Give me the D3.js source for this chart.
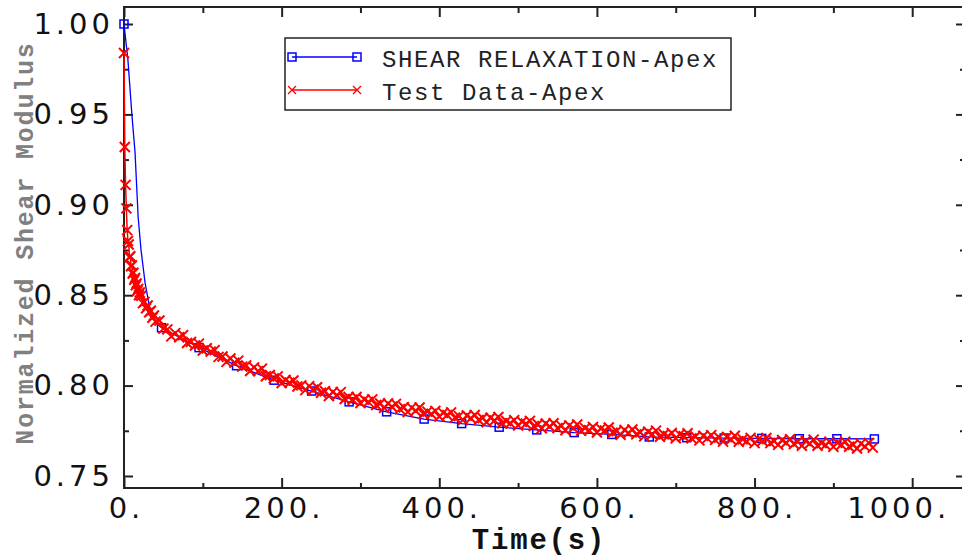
<!DOCTYPE html>
<html>
<head>
<meta charset="utf-8">
<script src="https://cdn.jsdelivr.net/npm/d3@7"></script>
<style>
  body { margin: 0; background: #fff; }
  svg { display: block; }
</style>
</head>
<body>
<div id="chart"></div>
<script>
// tick values and labels
const xMajor = [0, 200, 400, 600, 800, 1000];
const xMinor = [100, 300, 500, 700, 900];
const xTickLabels = ["0.", "200.", "400.", "600.", "800.", "1000."];
const yMajor = [0.75, 0.80, 0.85, 0.90, 0.95, 1.00];
const yMinor = [0.775, 0.825, 0.875, 0.925, 0.975];
const yTickLabels = ["0.75", "0.80", "0.85", "0.90", "0.95", "1.00"];

const seriesNames = ["SHEAR RELAXATION-Apex", "Test Data-Apex"];

// fitted relaxation curve [time, value]
const relaxCurve = [
  [0, 1.000], [5, 0.980], [10, 0.950], [14, 0.929], [18, 0.893], [21.6, 0.875],
  [26.7, 0.857], [33, 0.842], [40, 0.835], [47.6, 0.832], [95.2, 0.821],
  [142.8, 0.811], [190.4, 0.803], [238, 0.797], [285.6, 0.791], [333.2, 0.7855],
  [380.8, 0.7815], [428.4, 0.779], [476, 0.777], [523.6, 0.7755], [571.2, 0.774],
  [618.8, 0.773], [666.4, 0.7716], [714, 0.7712], [761.6, 0.771], [809.2, 0.7708],
  [856.8, 0.7706], [904.4, 0.7706], [952, 0.7705]
];
const relaxMarkerTime = [0, 47.6, 95.2, 142.8, 190.4, 238, 285.6, 333.2, 380.8, 428.4,
  476, 523.6, 571.2, 618.8, 666.4, 714, 761.6, 809.2, 856.8, 904.4, 952];

// measured test data [time, value]
const testData = [
  [0, .984], [1, .932], [2, .911], [3, .898], [4, .886], [5, .880], [6, .878], [7, .871],
  [8, .8715], [9, .866], [10, .8665], [11, .862], [12, .8625], [13, .8585], [14, .8595],
  [15, .8555], [16, .8565], [17, .8525], [18, .8535], [19, .850], [20, .8515],
  [22, .8497], [24, .8456], [26, .8463], [28, .8428], [30, .8443], [32, .8406], [34, .8414],
  [36, .8375], [38, .8388], [40, .8354],
  [45, .8360], [50, .8315], [55, .8311], [60, .8272], [65, .8290], [70, .8267], [75, .8279],
  [80, .8236], [85, .8242], [90, .8222], [95, .8232], [100, .8194], [105, .8207], [110, .8188],
  [115, .8196], [120, .8159], [125, .8161], [130, .8131], [135, .8150], [140, .8127],
  [145, .8138], [150, .8105], [155, .8111], [160, .8081], [165, .8101], [170, .8080],
  [175, .8094], [180, .8052], [185, .8059], [190, .8040], [195, .8051], [200, .8014],
  [205, .8031], [210, .8016], [215, .8028], [220, .7995], [225, .8001], [230, .7975],
  [235, .7997], [240, .7977], [245, .7991], [250, .7960], [255, .7969], [260, .7942],
  [265, .7965], [270, .7947], [275, .7964], [280, .7926], [285, .7937], [290, .7922],
  [295, .7937], [300, .7904], [305, .7923], [310, .7910], [315, .7924], [320, .7893],
  [325, .7901], [330, .7877], [335, .7901], [340, .7883], [345, .7899], [350, .7870],
  [355, .7880], [360, .7854], [365, .7878], [370, .7861], [375, .7879], [380, .7843],
  [385, .7856], [390, .7843], [395, .7860], [400, .7829], [405, .7849], [410, .7837],
  [415, .7852], [420, .7822], [425, .7831], [430, .7809], [435, .7835], [440, .7819],
  [445, .7837], [450, .7810], [455, .7821], [460, .7797], [465, .7822], [470, .7807],
  [475, .7826], [480, .7791], [485, .7804], [490, .7792], [495, .7809], [500, .7779],
  [505, .7800], [510, .7789], [515, .7805], [520, .7776], [525, .7786], [530, .7764],
  [535, .7790], [540, .7774], [545, .7792], [550, .7765], [555, .7777], [560, .7753],
  [565, .7780], [570, .7765], [575, .7785], [580, .7750], [585, .7765], [590, .7753],
  [595, .7771], [600, .7741], [605, .7762], [610, .7752], [615, .7768], [620, .7739],
  [625, .7749], [630, .7728], [635, .7754], [640, .7738], [645, .7757], [650, .7730],
  [655, .7742], [660, .7719], [665, .7745], [670, .7731], [675, .7751], [680, .7717],
  [685, .7731], [690, .7720], [695, .7738], [700, .7709], [705, .7730], [710, .7720],
  [715, .7736], [720, .7708], [725, .7718], [730, .7697], [735, .7723], [740, .7708],
  [745, .7726], [750, .7700], [755, .7713], [760, .7690], [765, .7716], [770, .7702],
  [775, .7723], [780, .7689], [785, .7703], [790, .7692], [795, .7711], [800, .7682],
  [805, .7704], [810, .7694], [815, .7710], [820, .7682], [825, .7693], [830, .7672],
  [835, .7699], [840, .7684], [845, .7703], [850, .7677], [855, .7690], [860, .7667],
  [865, .7694], [870, .7680], [875, .7701], [880, .7667], [885, .7682], [890, .7671],
  [895, .7690], [900, .7661], [905, .7683], [910, .7673], [915, .7690], [920, .7662],
  [925, .7673], [930, .7652], [935, .7679], [940, .7664], [945, .7683], [950, .7657]
];

function drawChart() {
  const width = 962;
  const height = 558;
  const left = 124, right = 965, top = 7, bottom = 488;
  const blue = "#0000ff", red = "#ff0000", ink = "#222";

  const x = d3.scaleLinear().domain([0, 1067]).range([left, right]);
  const y = d3.scaleLinear().domain([0.74336, 1.0094]).range([bottom, top]);

  const svg = d3.select("#chart").append("svg")
    .attr("width", width)
    .attr("height", height)
    .style("background", "#fff");

  // minor ticks
  svg.append("g").attr("transform", "translate(" + left + ",0)")
    .call(d3.axisLeft(y).tickValues(yMinor).tickSize(-5).tickFormat(""));
  svg.append("g").attr("transform", "translate(" + right + ",0)")
    .call(d3.axisRight(y).tickValues(yMinor).tickSize(-5).tickFormat(""));
  svg.append("g").attr("transform", "translate(0," + bottom + ")")
    .call(d3.axisBottom(x).tickValues(xMinor).tickSize(-5).tickFormat(""));
  svg.append("g").attr("transform", "translate(0," + top + ")")
    .call(d3.axisTop(x).tickValues(xMinor).tickSize(-6).tickFormat(""));

  // major ticks with labels
  svg.append("g").attr("transform", "translate(" + left + ",0)")
    .call(d3.axisLeft(y).tickValues(yMajor).tickSize(-9).tickPadding(10)
      .tickFormat(function(d, i) { return yTickLabels[i]; }));
  svg.append("g").attr("transform", "translate(" + right + ",0)")
    .call(d3.axisRight(y).tickValues(yMajor).tickSize(-9).tickFormat(""));
  const xAxis = svg.append("g").attr("transform", "translate(0," + bottom + ")")
    .call(d3.axisBottom(x).tickValues(xMajor).tickSize(-10).tickPadding(9)
      .tickFormat(function(d, i) { return xTickLabels[i]; }));
  svg.append("g").attr("transform", "translate(0," + top + ")")
    .call(d3.axisTop(x).tickValues(xMajor).tickSize(-10).tickFormat(""));

  svg.selectAll(".domain").remove();
  svg.selectAll(".tick line").attr("stroke", ink).attr("stroke-width", 2);
  svg.selectAll(".tick text")
    .attr("fill", "#111")
    .style("font-family", "'DejaVu Sans', sans-serif")
    .style("font-size", "29px")
    .style("letter-spacing", "4px");
  // last label is pushed in so it stays on the page
  xAxis.selectAll(".tick text").attr("dx", function(d) { return d === 1000 ? -14 : 2; });

  // frame
  svg.append("rect")
    .attr("x", left).attr("y", top)
    .attr("width", right - left).attr("height", bottom - top)
    .attr("fill", "none").attr("stroke", ink).attr("stroke-width", 2);

  // relaxation curve
  const line = d3.line()
    .x(function(d) { return x(d[0]); })
    .y(function(d) { return y(d[1]); });

  svg.append("path").datum(relaxCurve)
    .attr("d", line)
    .attr("fill", "none").attr("stroke", blue).attr("stroke-width", 1.3);

  const s = 8;
  svg.append("g").selectAll("rect")
    .data(relaxCurve.filter(function(d) { return relaxMarkerTime.includes(d[0]); }))
    .enter().append("rect")
    .attr("x", function(d) { return x(d[0]) - s / 2; })
    .attr("y", function(d) { return y(d[1]) - s / 2; })
    .attr("width", s).attr("height", s)
    .attr("fill", "none").attr("stroke", blue).attr("stroke-width", 1.5);

  // test data
  svg.append("path").datum(testData)
    .attr("d", line)
    .attr("fill", "none").attr("stroke", red).attr("stroke-width", 1.5);

  const c = 5;
  svg.append("g").selectAll("path")
    .data(testData)
    .enter().append("path")
    .attr("d", function(d) {
      const px = x(d[0]), py = y(d[1]);
      return "M" + (px - c) + "," + (py - c) + "L" + (px + c) + "," + (py + c) +
             "M" + (px - c) + "," + (py + c) + "L" + (px + c) + "," + (py - c);
    })
    .attr("fill", "none").attr("stroke", red).attr("stroke-width", 2);

  // axis titles
  svg.append("text")
    .attr("x", 539).attr("y", 549)
    .attr("text-anchor", "middle")
    .attr("fill", "#111")
    .style("font-family", "'Liberation Mono', 'Courier New', monospace")
    .style("font-weight", "bold")
    .style("font-size", "29px")
    .style("letter-spacing", "1.8px")
    .text("Time(s)");

  svg.append("text")
    .attr("transform", "translate(33,243) rotate(-90)")
    .attr("text-anchor", "middle")
    .attr("fill", "#808080")
    .style("font-family", "'Liberation Mono', 'Courier New', monospace")
    .style("font-weight", "bold")
    .style("font-size", "25px")
    .style("letter-spacing", "1.8px")
    .text("Normalized Shear Modulus");

  // legend
  const legend = svg.append("g");
  legend.append("rect")
    .attr("x", 285).attr("y", 38).attr("width", 446).attr("height", 72)
    .attr("fill", "#fff").attr("stroke", ink).attr("stroke-width", 1.5);

  const rows = [57, 90];
  legend.selectAll("line.key").data(rows).enter().append("line")
    .attr("x1", 292).attr("x2", 357)
    .attr("y1", function(d) { return d; }).attr("y2", function(d) { return d; })
    .attr("stroke", function(d, i) { return i === 0 ? blue : red; })
    .attr("stroke-width", 1.3);

  [292, 357].forEach(function(kx) {
    legend.append("rect")
      .attr("x", kx - s / 2).attr("y", rows[0] - s / 2)
      .attr("width", s).attr("height", s)
      .attr("fill", "none").attr("stroke", blue).attr("stroke-width", 1.5);
    legend.append("path")
      .attr("d", "M" + (kx - 4) + "," + (rows[1] - 4) + "L" + (kx + 4) + "," + (rows[1] + 4) +
                 "M" + (kx - 4) + "," + (rows[1] + 4) + "L" + (kx + 4) + "," + (rows[1] - 4))
      .attr("stroke", red).attr("stroke-width", 1.3);
  });

  legend.selectAll("text").data(seriesNames).enter().append("text")
    .attr("x", 382)
    .attr("y", function(d, i) { return rows[i] + 10; })
    .attr("fill", "#222")
    .style("font-family", "'Liberation Mono', 'Courier New', monospace")
    .style("font-size", "24px")
    .style("letter-spacing", "1.6px")
    .text(function(d) { return d; });
}

window.onload = drawChart;
</script>
</body>
</html>
